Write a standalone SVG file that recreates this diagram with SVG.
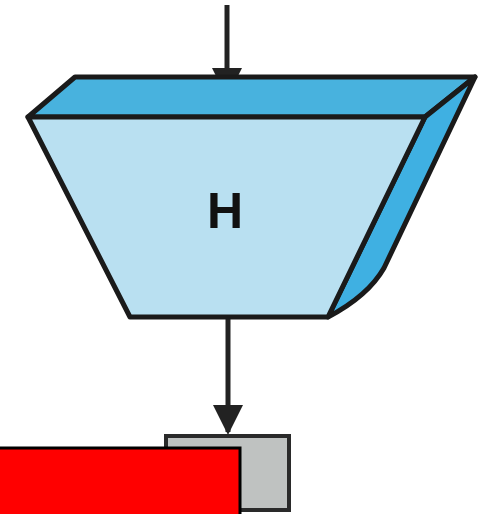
<svg xmlns="http://www.w3.org/2000/svg" width="489" height="514" viewBox="0 0 489 514">
  <style>
    .edge { stroke: #222; stroke-width: 5; fill: none; }
    .outline { stroke: #1a1a1a; stroke-width: 5; stroke-linejoin: round; }
    .label { font-family: "Liberation Sans", Arial, sans-serif; font-weight: bold; font-size: 50px; fill: #111; text-anchor: middle; }
  </style>
  <defs>
    <marker id="arrow" viewBox="0 0 10 10" refX="9" refY="5" markerWidth="6" markerHeight="6" markerUnits="strokeWidth" orient="auto">
      <path d="M0,0 L10,5 L0,10 z" fill="#222"/>
    </marker>
  </defs>
  <rect width="489" height="514" fill="#ffffff"/>
  <g id="connectors">
    <line class="edge" x1="227" y1="5" x2="227" y2="95" marker-end="url(#arrow)"/>
    <line class="edge" x1="228" y1="318" x2="228" y2="432" marker-end="url(#arrow)"/>
  </g>
  <g id="node-H">
    <polygon class="outline" points="28,117 75,77 475,77 425,117" fill="#48b2de"/>
    <path class="outline" d="M425,117 L475,77 L384,268 Q368,296 328,317 Z" fill="#3fb0e2"/>
    <polygon class="outline" points="28,117 425,117 328,317 130,317" fill="#b9e0f1"/>
    <text class="label" x="225" y="228">H</text>
  </g>
  <g id="node-gray">
    <rect x="166" y="436" width="123" height="74" fill="#bfc2c1" stroke="#2a2a2a" stroke-width="4"/>
  </g>
  <g id="redact">
    <rect x="-5" y="448" width="245" height="75" fill="#ff0000" stroke="#000" stroke-width="3"/>
  </g>
</svg>
